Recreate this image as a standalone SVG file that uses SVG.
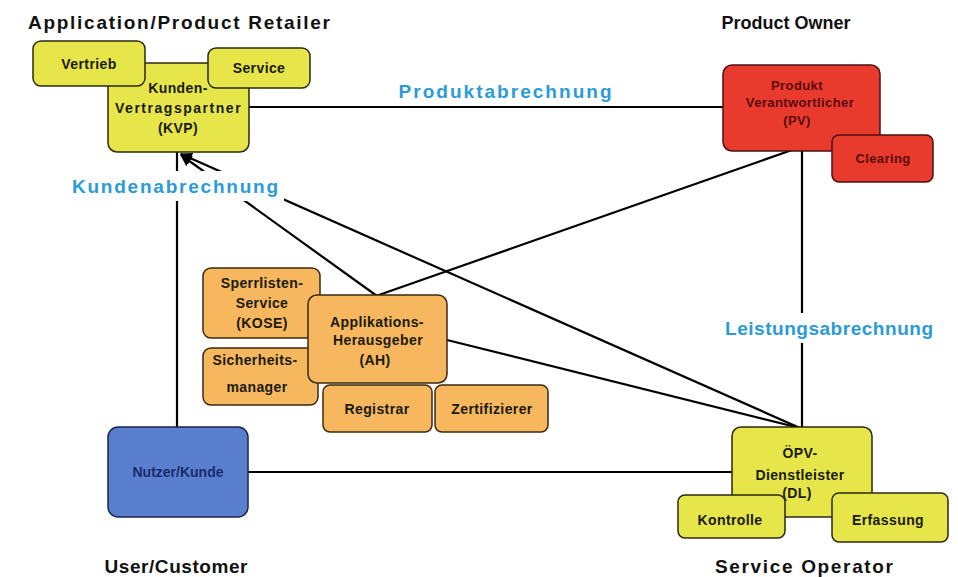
<svg xmlns="http://www.w3.org/2000/svg" width="958" height="577" viewBox="0 0 958 577">
<defs>
<marker id="ah" viewBox="0 0 10 10" refX="9" refY="5" markerWidth="12" markerHeight="12" markerUnits="userSpaceOnUse" orient="auto">
<path d="M0,0 L10,5 L0,10 z" fill="#000"/>
</marker>
<style>
.conn line{stroke:#000;stroke-width:2.2;fill:none}
.y rect{fill:#e6e64a;stroke:#2a2a10;stroke-width:1.5}
.r rect{fill:#e93a2e;stroke:#4a1010;stroke-width:1.5}
.o rect{fill:#f6b75e;stroke:#3a2a10;stroke-width:1.5}
.b rect{fill:#5a7fcf;stroke:#1a2450;stroke-width:1.5}
text{font-family:"Liberation Sans",Arial,sans-serif;font-weight:bold;text-anchor:middle}
.t{font-size:14px;fill:#1a1a0a;letter-spacing:0.4px}
.tr{font-size:13px;fill:#5a0c0c;letter-spacing:0.4px}
.tb{font-size:14px;fill:#1a2a6a}
.h{font-size:19px;fill:#111}
.lab{font-size:19px;fill:#2b9bd8}
.bg{fill:#fff}
</style>
</defs>
<rect width="958" height="577" fill="#fff"/>
<g id="connectors" class="conn">
<line x1="248" y1="107" x2="723" y2="107"/>
<line x1="802" y1="150" x2="802" y2="428"/>
<line x1="792" y1="150" x2="376" y2="296"/>
<line x1="377" y1="296" x2="181" y2="155" marker-end="url(#ah)"/>
<line x1="800" y1="428" x2="181" y2="154" marker-end="url(#ah)"/>
<line x1="447" y1="340" x2="800" y2="428"/>
<line x1="177" y1="152" x2="177" y2="428"/>
<line x1="248" y1="472" x2="732" y2="472"/>
</g>
<g id="labels">
<text class="h" x="179" y="29" textLength="302" lengthAdjust="spacing">Application/Product Retailer</text>
<text class="h" x="786" y="29" style="font-size:18px">Product Owner</text>
<text class="lab" x="505" y="98" textLength="213" lengthAdjust="spacing">Produktabrechnung</text>
<rect class="bg" x="66" y="171" width="218" height="30"/>
<text class="lab" x="175" y="193" textLength="206" lengthAdjust="spacing">Kundenabrechnung</text>
<rect class="bg" x="720" y="313" width="218" height="30"/>
<text class="lab" x="829" y="335" textLength="208" lengthAdjust="spacing">Leistungsabrechnung</text>
<text class="h" x="176" y="573" textLength="143" lengthAdjust="spacing">User/Customer</text>
<text class="h" x="804" y="573" textLength="178" lengthAdjust="spacing">Service Operator</text>
</g>
<g id="kvp" class="y">
<rect x="108" y="63" width="141" height="89" rx="9"/>
<text class="t" x="178" y="93">Kunden-</text>
<text class="t" x="178" y="113" textLength="126" lengthAdjust="spacing">Vertragspartner</text>
<text class="t" x="178" y="133">(KVP)</text>
</g>
<g id="vertrieb" class="y">
<rect x="33" y="41" width="112" height="45" rx="8"/>
<text class="t" x="89" y="69">Vertrieb</text>
</g>
<g id="service" class="y">
<rect x="208" y="48" width="102" height="40" rx="8"/>
<text class="t" x="259" y="73">Service</text>
</g>
<g id="pv" class="r">
<rect x="723" y="65" width="157" height="86" rx="9"/>
<text class="tr" x="797" y="90">Produkt</text>
<text class="tr" x="800" y="107">Verantwortlicher</text>
<text class="tr" x="797" y="125">(PV)</text>
</g>
<g id="clearing" class="r">
<rect x="832" y="135" width="101" height="47" rx="7"/>
<text class="tr" x="883" y="163">Clearing</text>
</g>
<g id="kose" class="o">
<rect x="203" y="268" width="117" height="70" rx="8"/>
<text class="t" x="262" y="288">Sperrlisten-</text>
<text class="t" x="262" y="308">Service</text>
<text class="t" x="262" y="328">(KOSE)</text>
</g>
<g id="sicherheit" class="o">
<rect x="203" y="348" width="115" height="57" rx="8"/>
<text class="t" x="255" y="365">Sicherheits-</text>
<text class="t" x="257" y="392">manager</text>
</g>
<g id="ah-node" class="o">
<rect x="308" y="295" width="139" height="88" rx="9"/>
<text class="t" x="377" y="327">Applikations-</text>
<text class="t" x="378" y="345">Herausgeber</text>
<text class="t" x="375" y="365">(AH)</text>
</g>
<g id="registrar" class="o">
<rect x="323" y="385" width="109" height="47" rx="7"/>
<text class="t" x="377" y="414">Registrar</text>
</g>
<g id="zertifizierer" class="o">
<rect x="435" y="385" width="113" height="47" rx="7"/>
<text class="t" x="492" y="414">Zertifizierer</text>
</g>
<g id="nutzer" class="b">
<rect x="108" y="427" width="140" height="90" rx="10"/>
<text class="tb" x="178" y="477">Nutzer/Kunde</text>
</g>
<g id="dl" class="y">
<rect x="732" y="427" width="140" height="90" rx="9"/>
<text class="t" x="800" y="458">ÖPV-</text>
<text class="t" x="800" y="480">Dienstleister</text>
<text class="t" x="797" y="498">(DL)</text>
</g>
<g id="kontrolle" class="y">
<rect x="678" y="495" width="107" height="43" rx="7"/>
<text class="t" x="730" y="525">Kontrolle</text>
</g>
<g id="erfassung" class="y">
<rect x="832" y="493" width="116" height="49" rx="7"/>
<text class="t" x="888" y="525">Erfassung</text>
</g>
</svg>
